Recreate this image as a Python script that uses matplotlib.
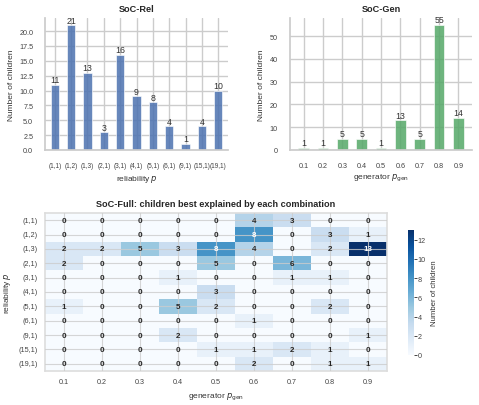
import matplotlib
matplotlib.use("Agg")
import matplotlib.pyplot as plt
import seaborn as sns
import numpy as np

sns.set_theme(style="whitegrid")
plt.rcParams['font.family'] = ['Liberation Sans', 'DejaVu Sans']

rel_labels = ["(1,1)", "(1,2)", "(1,3)", "(2,1)", "(3,1)", "(4,1)", "(5,1)", "(6,1)", "(9,1)", "(15,1)", "(19,1)"]
rel_counts = [11, 21, 13, 3, 16, 9, 8, 4, 1, 4, 10]

gen_labels = ["0.1", "0.2", "0.3", "0.4", "0.5", "0.6", "0.7", "0.8", "0.9"]
gen_counts = [1, 1, 5, 5, 1, 13, 5, 55, 14]

full_counts = [
    [0, 0, 0, 0, 0, 4, 3, 0, 0],
    [0, 0, 0, 0, 0, 8, 0, 3, 1],
    [2, 2, 5, 3, 8, 4, 0, 2, 13],
    [2, 0, 0, 0, 5, 0, 6, 0, 0],
    [0, 0, 0, 1, 0, 0, 1, 1, 0],
    [0, 0, 0, 0, 3, 0, 0, 0, 0],
    [1, 0, 0, 5, 2, 0, 0, 2, 0],
    [0, 0, 0, 0, 0, 1, 0, 0, 0],
    [0, 0, 0, 2, 0, 0, 0, 0, 1],
    [0, 0, 0, 0, 1, 1, 2, 1, 0],
    [0, 0, 0, 0, 0, 2, 0, 1, 1],
]

fig = plt.figure(figsize=(4.79, 4.06), dpi=100)

tick_fs = 5.2
xtick_rel_fs = 4.7
lab_fs = 6.0
title_fs = 6.6
ann_fs = 6.3
hm_ann_fs = 5.8
tcol = "#444444"

# SoC-Rel
ax1 = fig.add_axes([45/479, 1-151/406, 183/479, 132/406])
x1 = np.arange(len(rel_labels))
ax1.bar(x1, rel_counts, width=0.5, color="#4C72B0", alpha=0.85, edgecolor="white", linewidth=0.5)
for xi, v in zip(x1, rel_counts):
    ax1.text(xi, v + 0.1, str(v), ha="center", va="bottom", fontsize=ann_fs, color="#333333")
ax1.set_xticks(x1)
ax1.set_xticklabels(rel_labels, fontsize=xtick_rel_fs, color=tcol)
ax1.set_ylim(0, 22.2)
ax1.set_yticks(np.arange(0, 20.1, 2.5))
ax1.tick_params(axis="y", labelsize=tick_fs, pad=2.5, labelcolor=tcol)
ax1.tick_params(axis="x", pad=3)
ax1.set_xlabel(r"reliability $p$", fontsize=lab_fs, labelpad=2.5, color="#333333")
ax1.set_ylabel("Number of children", fontsize=lab_fs, labelpad=3, color="#333333")
ax1.set_title("SoC-Rel", fontsize=title_fs, fontweight="bold", pad=5)
ax1.set_xlim(-0.6, len(rel_labels) - 0.4)
for s in ["top", "right"]:
    ax1.spines[s].set_visible(False)

# SoC-Gen
ax2 = fig.add_axes([290/479, 1-151/406, 182/479, 132/406])
x2 = np.arange(len(gen_labels))
ax2.bar(x2, gen_counts, width=0.55, color="#55A868", alpha=0.85, edgecolor="white", linewidth=0.5)
for xi, v in zip(x2, gen_counts):
    ax2.text(xi, v + 0.3, str(v), ha="center", va="bottom", fontsize=ann_fs, color="#333333")
ax2.set_xticks(x2)
ax2.set_xticklabels(gen_labels, fontsize=tick_fs, color=tcol)
ax2.set_ylim(0, 58)
ax2.set_yticks([0, 10, 20, 30, 40, 50])
ax2.tick_params(axis="y", labelsize=tick_fs, pad=3, labelcolor=tcol)
ax2.tick_params(axis="x", pad=3)
ax2.set_xlabel(r"generator $p_{\mathrm{gen}}$", fontsize=lab_fs, labelpad=2, color="#333333")
ax2.set_ylabel("Number of children", fontsize=lab_fs, labelpad=3, color="#333333")
ax2.set_title("SoC-Gen", fontsize=title_fs, fontweight="bold", pad=5)
ax2.set_xlim(-0.7, len(gen_labels) - 0.3)
for s in ["top", "right"]:
    ax2.spines[s].set_visible(False)

# SoC-Full heatmap
ax3 = fig.add_axes([45/479, 1-372/406, 342/479, 158/406])
cax = fig.add_axes([408/479, 1-356/406, 5.5/479, 125/406])
data = np.array(full_counts)
sns.heatmap(data, ax=ax3, cbar_ax=cax, cmap="Blues", vmin=0, vmax=data.max(),
            annot=True, fmt="d", annot_kws={"fontsize": hm_ann_fs, "fontweight": "bold"},
            xticklabels=gen_labels, yticklabels=rel_labels,
            cbar_kws={"label": "Number of children"})
ax3.set_axisbelow(False)
ax3.grid(True, color="#cccccc", linewidth=0.8, alpha=0.8)
for s in ax3.spines.values():
    s.set_visible(True)
    s.set_color("#dddddd")
    s.set_linewidth(1.2)
ax3.tick_params(axis="both", labelsize=tick_fs, length=0, pad=5, labelcolor=tcol)
ax3.set_yticklabels(rel_labels, rotation=0)
ax3.set_xticklabels(gen_labels, rotation=0)
ax3.set_xlabel(r"generator $p_{\mathrm{gen}}$", fontsize=lab_fs, labelpad=4, color="#333333")
ax3.set_ylabel(r"reliability $p$", fontsize=lab_fs, labelpad=4, color="#333333")
ax3.set_title("SoC-Full: children best explained by each combination", fontsize=title_fs, fontweight="bold", pad=5)
cax.tick_params(labelsize=tick_fs, length=2, width=0.6, pad=1, labelcolor=tcol)
cax.yaxis.label.set_size(lab_fs - 0.4)
cax.yaxis.label.set_color("#333333")
cax.set_yticks([0, 2, 4, 6, 8, 10, 12])
for s in cax.spines.values():
    s.set_visible(False)

fig.savefig("out.png", dpi=100)
